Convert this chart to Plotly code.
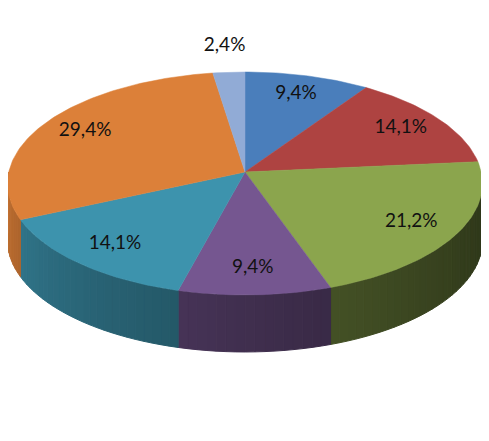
import numpy as np
import plotly.graph_objects as go

# slice values (percent), clockwise from 12 o'clock
values = [9.4, 14.1, 21.2, 9.4, 14.1, 29.4, 2.4]
labels = ["9,4%", "14,1%", "21,2%", "9,4%", "14,1%", "29,4%", "2,4%"]
colors = ["#4a7ebb", "#ae4341", "#8ba54d", "#755690", "#3d93ad", "#dc8039", "#91abd6"]

# fake 3d pie geometry (pixel space), simple perspective tilt
AX, AY = 245.0, 172.0
A, B, K = 236.2, 110.3, 0.103
DEPTH = 57.0
PAD = 8  # page body margin


def proj(t, f=1.0):
    r = np.radians(t)
    u, v = f * np.sin(r), -f * np.cos(r)
    d = 1 - K * v
    return AX + A * u / d, AY + B * v / d


def shade(hex_color, f):
    h = hex_color.lstrip("#")
    rgb = [int(h[i:i + 2], 16) for i in (0, 2, 4)]
    return "rgb(%d,%d,%d)" % tuple(int(c * f) for c in rgb)


total = sum(values)
bounds = np.concatenate([[0], np.cumsum(values) / total * 360])

fig = go.Figure()

# side walls (front half only), darker on the right
for i, col in enumerate(colors):
    a0, a1 = max(bounds[i], 90), min(bounds[i + 1], 270)
    if a1 <= a0:
        continue
    n = max(int((a1 - a0) / 2), 1)
    ts = np.linspace(a0, a1, n + 1)
    for t0, t1 in zip(ts[:-1], ts[1:]):
        x0, y0 = proj(t0)
        x1, y1 = proj(t1)
        tm = ((t0 + t1) / 2 - 90) / 180
        c = shade(col, 0.32 + 0.57 * tm ** 1.3)
        fig.add_trace(go.Scatter(
            x=[x0, x1, x1, x0, x0], y=[y0, y1, y1 + DEPTH, y0 + DEPTH, y0],
            mode="lines", fill="toself", fillcolor=c,
            line=dict(color=c, width=1), hoverinfo="skip", showlegend=False))

# top faces
for i, col in enumerate(colors):
    ts = np.linspace(bounds[i], bounds[i + 1], max(int(values[i] * 3.6), 2) + 1)
    xs, ys = proj(ts)
    fig.add_trace(go.Scatter(
        x=np.concatenate([[AX], xs, [AX]]), y=np.concatenate([[AY], ys, [AY]]),
        mode="lines", fill="toself", fillcolor=col,
        line=dict(color=col, width=0.5), hoverinfo="skip", showlegend=False))

# data labels
mids = (bounds[:-1] + bounds[1:]) / 2
f = np.where(np.array(values) < 5, 1.3, 0.8)
lx, ly = proj(mids, f)
fig.add_trace(go.Scatter(
    x=lx, y=ly, mode="text", text=labels,
    textfont=dict(family="Lato", size=19, color="#111111"),
    hoverinfo="skip", showlegend=False))

fig.update_xaxes(range=[PAD, 489 + PAD], visible=False)
fig.update_yaxes(range=[441 + PAD, PAD], visible=False)
fig.update_layout(width=489, height=441, margin=dict(l=0, r=0, t=0, b=0),
                  paper_bgcolor="white", plot_bgcolor="white")
fig.write_html("out.html")
